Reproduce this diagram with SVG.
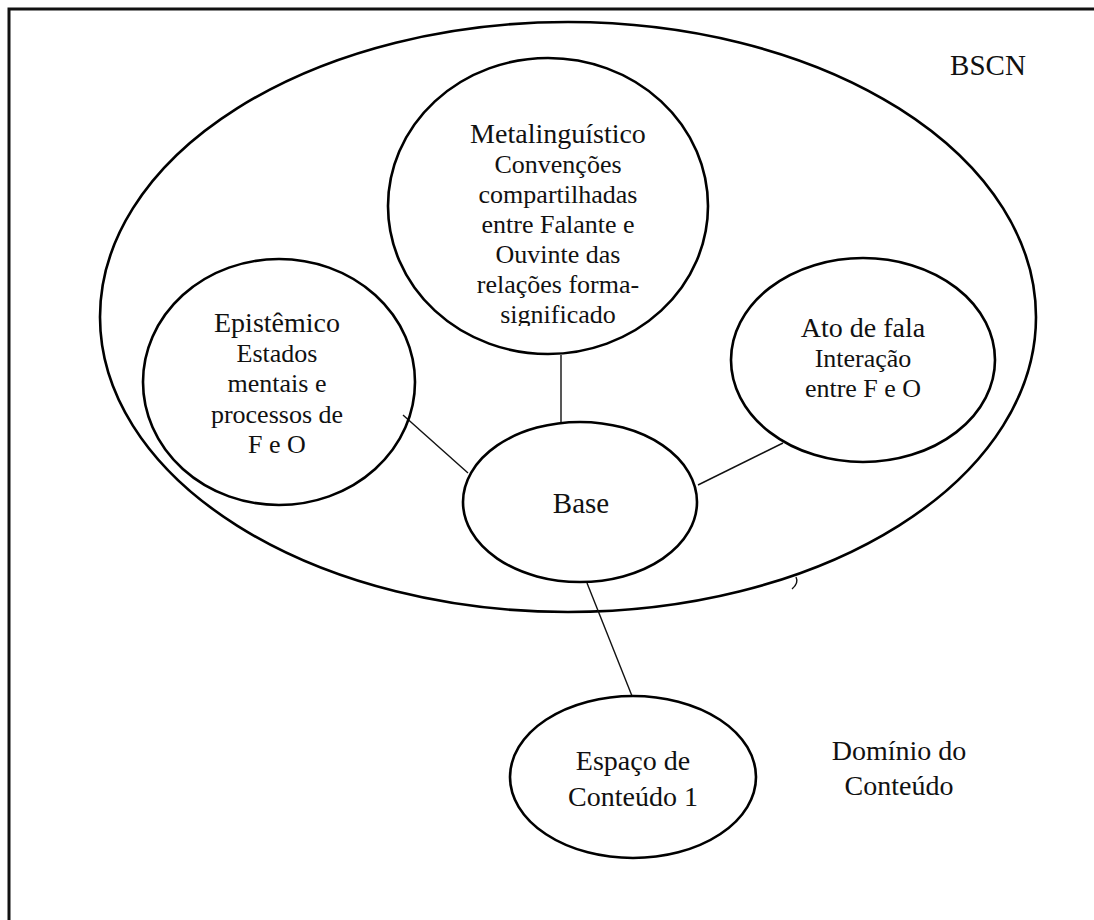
<svg xmlns="http://www.w3.org/2000/svg" width="1094" height="920" viewBox="0 0 1094 920">
  <style>
    .shape { fill: none; stroke: #000; stroke-width: 2.6; }
    .link { fill: none; stroke: #111; stroke-width: 1.4; }
    .frame { fill: none; stroke: #111; stroke-width: 3; }
    text { font-family: "Liberation Serif", "Times New Roman", serif; fill: #111; text-anchor: middle; }
    .title { font-size: 28px; }
    .body { font-size: 26px; }
  </style>
  <defs>
    <clipPath id="metaClip">
      <rect x="380" y="100" width="340" height="226"/>
    </clipPath>
  </defs>
  <rect width="1094" height="920" fill="#fff"/>

  <!-- outer frame (open on the right and bottom) -->
  <path class="frame" d="M9 920 V9 H1094"/>

  <!-- BSCN region -->
  <g id="bscn">
    <ellipse class="shape" cx="568" cy="317" rx="468" ry="295"/>
    <text class="title" x="988" y="75" style="font-size:29px">BSCN</text>
    <path class="link" d="M796 577 Q799 583 792 589"/>
  </g>

  <!-- connectors -->
  <g id="connectors">
    <line class="link" x1="561" y1="355" x2="561" y2="422"/>
    <line class="link" x1="403" y1="415" x2="468" y2="473"/>
    <line class="link" x1="783" y1="443" x2="698" y2="485"/>
    <line class="link" x1="587" y1="583" x2="632" y2="696"/>
  </g>

  <g id="metalinguistico">
    <ellipse class="shape" cx="548" cy="206" rx="160" ry="148"/>
    <g clip-path="url(#metaClip)">
      <text class="title" x="558" y="143">Metalinguístico</text>
      <text class="body" x="558" y="173">Convenções</text>
      <text class="body" x="558" y="203">compartilhadas</text>
      <text class="body" x="558" y="233">entre Falante e</text>
      <text class="body" x="558" y="263">Ouvinte das</text>
      <text class="body" x="558" y="293">relações forma-</text>
      <text class="body" x="558" y="323">significado</text>
    </g>
  </g>

  <g id="epistemico">
    <ellipse class="shape" cx="279" cy="382" rx="136" ry="123"/>
    <text class="title" x="277" y="332">Epistêmico</text>
    <text class="body" x="277" y="362">Estados</text>
    <text class="body" x="277" y="392">mentais e</text>
    <text class="body" x="277" y="423">processos de</text>
    <text class="body" x="277" y="453">F e O</text>
  </g>

  <g id="ato-de-fala">
    <ellipse class="shape" cx="863" cy="360" rx="132" ry="102"/>
    <text class="title" x="863" y="337">Ato de fala</text>
    <text class="body" x="863" y="367">Interação</text>
    <text class="body" x="863" y="397">entre F e O</text>
  </g>

  <g id="base">
    <ellipse class="shape" cx="580" cy="502" rx="117" ry="80"/>
    <text class="title" x="581" y="513" style="font-size:29px">Base</text>
  </g>

  <g id="espaco-conteudo">
    <ellipse class="shape" cx="633" cy="777" rx="123" ry="81"/>
    <text class="title" x="633" y="770">Espaço de</text>
    <text class="title" x="633" y="806">Conteúdo 1</text>
  </g>

  <g id="dominio-conteudo">
    <text class="title" x="899" y="760">Domínio do</text>
    <text class="title" x="899" y="795">Conteúdo</text>
  </g>
</svg>
